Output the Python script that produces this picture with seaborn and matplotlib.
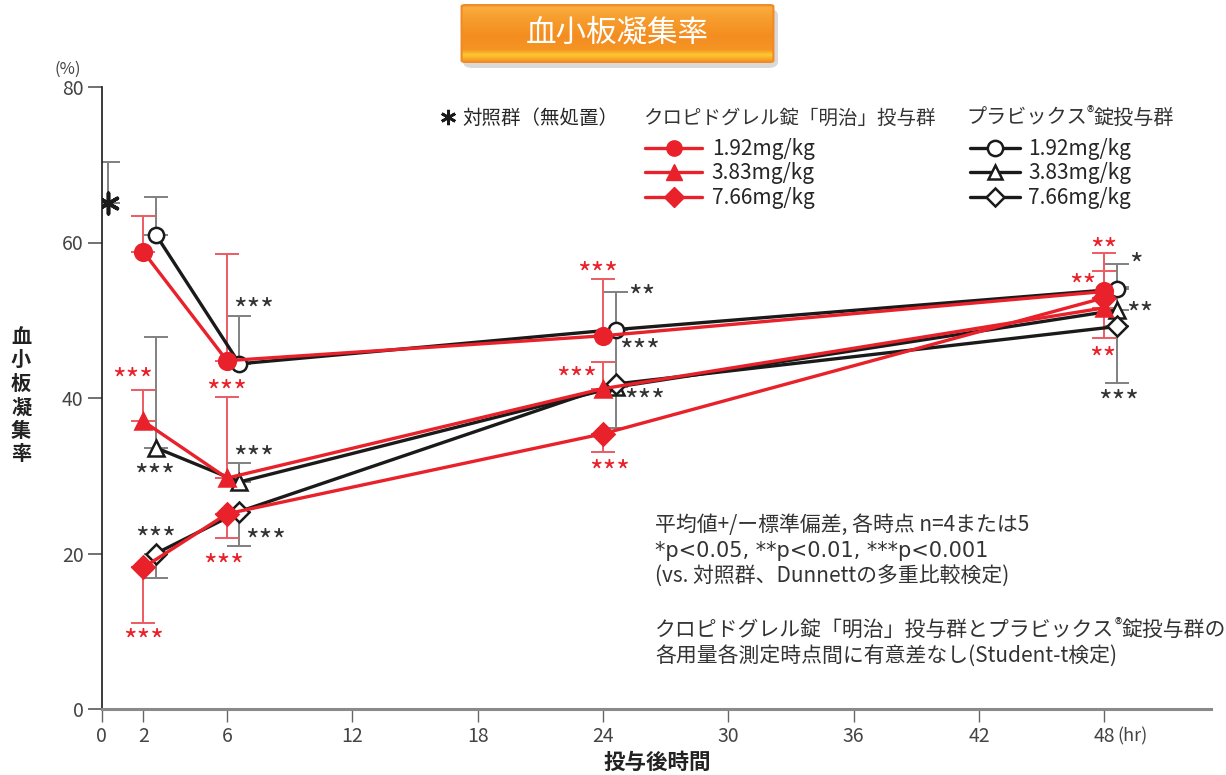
import numpy as np
import pandas as pd
import seaborn as sns
import matplotlib
matplotlib.use("Agg")
import matplotlib.pyplot as plt
from matplotlib.lines import Line2D
from matplotlib.patches import FancyBboxPatch
from matplotlib.colors import LinearSegmentedColormap
import matplotlib.transforms as mtransforms

# ---------------- data ----------------
times = [2, 6, 24, 48]
plavix_times = [2.6, 6.6, 24.6, 48.6]
control_time = [0.3]
control_value = [65.1]
control_err_up = [5.2]

clo_192 = [58.8, 44.8, 48.0, 53.7]
clo_192_err_up = [4.6, 13.7, 7.3, 5.0]
clo_383 = [37.0, 29.7, 41.2, 51.6]
clo_383_err_up = [4.0, 10.4, 3.4, 4.7]
clo_766 = [18.2, 25.1, 35.4, 52.9]
clo_766_err_dn = [7.1, 3.1, 2.3, 5.2]

pla_192 = [61.0, 44.4, 48.8, 54.0]
pla_192_err_up = [4.9, 6.2, 4.8, 3.2]
pla_383 = [33.6, 29.2, 41.4, 51.3]
pla_383_err_up = [14.2, 2.4, 7.0, 3.0]
pla_766 = [20.0, 25.4, 41.8, 49.2]
pla_766_err_dn = [3.2, 4.4, 5.7, 7.3]

dose_labels = ["1.92mg/kg", "3.83mg/kg", "7.66mg/kg"]
x_ticks = [0, 2, 6, 12, 18, 24, 30, 36, 42, 48]
y_ticks = [0, 20, 40, 60, 80]

# significance marks: (x, y, text, group)
sig_marks = [
    (1.49, 43.2, "***", "clo"), (2.53, 30.8, "***", "pla"), (2.59, 22.7, "***", "pla"),
    (1.99, 9.6, "***", "clo"), (7.26, 52.2, "***", "pla"), (5.99, 41.6, "***", "clo"),
    (7.26, 33.1, "***", "pla"), (7.86, 22.5, "***", "pla"), (5.83, 19.3, "***", "clo"),
    (23.73, 56.8, "***", "clo"), (25.85, 53.9, "**", "pla"), (25.77, 46.9, "***", "pla"),
    (22.71, 43.3, "***", "clo"), (25.98, 40.5, "***", "pla"), (24.29, 31.3, "***", "clo"),
    (47.95, 59.9, "**", "clo"), (49.51, 57.97, "*", "pla"), (46.95, 55.3, "**", "clo"),
    (49.71, 51.7, "**", "pla"), (47.9, 45.9, "**", "clo"), (48.67, 40.3, "***", "pla"),
]

RED = "#e8212a"
RED_ERR = "#ee5a62"
BLACK = "#1a1a1a"
GRAY_ERR = "#808080"
STAR_DARK = "#333333"
TXT = "#333333"

sns.set_theme(style="white")
plt.rcParams["font.family"] = ["Noto Sans CJK JP", "DejaVu Sans"]

W, H = 1226, 775
fig = plt.figure(figsize=(W / 100, H / 100), dpi=100)
fig.patch.set_facecolor("white")

def fx(px):
    return px / W

def fy(py):
    return 1 - py / H

ax = fig.add_axes([fx(101.6), fy(709), fx(1211) - fx(101.6), fy(87) - fy(709)])
ax.set_facecolor("white")

# ---------------- error bars ----------------
def ebar(x, y, up=None, dn=None, color=GRAY_ERR):
    z = [0] * len(y)
    yerr = [dn if dn is not None else z, up if up is not None else z]
    ax.errorbar(x, y, yerr=yerr, fmt="none", ecolor=color, elinewidth=1.4,
                capsize=8.5, capthick=1.4, zorder=1)

ebar(control_time, control_value, up=control_err_up)
ebar(plavix_times, pla_192, up=pla_192_err_up)
ebar(plavix_times, pla_383, up=pla_383_err_up)
ebar(plavix_times, pla_766, dn=pla_766_err_dn)
ebar(times, clo_192, up=clo_192_err_up, color=RED_ERR)
ebar(times, clo_383, up=clo_383_err_up, color=RED_ERR)
ebar(times, clo_766, dn=clo_766_err_dn, color=RED_ERR)

# ---------------- lines ----------------
series = [
    (plavix_times, pla_192, "o", BLACK, "white", 11, 3),
    (plavix_times, pla_383, "^", BLACK, "white", 11, 3),
    (plavix_times, pla_766, "D", BLACK, "white", 10, 3),
    (times, clo_192, "o", RED, RED, 12, 4),
    (times, clo_383, "^", RED, RED, 12, 4),
    (times, clo_766, "D", RED, RED, 11, 4),
]
for xs, ys, mk, col, mfc, ms, z in series:
    df = pd.DataFrame({"t": xs, "v": ys})
    sns.lineplot(data=df, x="t", y="v", ax=ax, color=col, linewidth=2.4,
                 marker=mk, markersize=ms, markerfacecolor=mfc,
                 markeredgecolor=col, markeredgewidth=1.8, zorder=z)

dfc = pd.DataFrame({"t": control_time, "v": control_value})
sns.scatterplot(data=dfc, x="t", y="v", ax=ax, marker=(6, 2, 0), s=220,
                color=BLACK, linewidth=2.6, edgecolor=BLACK, zorder=5)

# ---------------- significance stars ----------------
STAR_FS = 21
for x, y, s, g in sig_marks:
    col = RED if g == "clo" else STAR_DARK
    tr = mtransforms.offset_copy(ax.transData, fig=fig, x=0, y=-0.56 * STAR_FS,
                                 units="points")
    ax.text(x, y, s, transform=tr, ha="center", va="baseline", fontsize=STAR_FS,
            color=col, zorder=6)

# ---------------- axes styling ----------------
ax.set_xlim(0, 53.1)
ax.set_ylim(0, 80)
ax.set_xticks(x_ticks)
ax.set_yticks(y_ticks)
ax.set_xticklabels([str(t) for t in x_ticks])
ax.set_xlabel("")
ax.set_ylabel("")
for s in ["top", "right"]:
    ax.spines[s].set_visible(False)
ax.spines["left"].set_color(BLACK)
ax.spines["left"].set_linewidth(1.2)
ax.spines["bottom"].set_color("#8a8a8a")
ax.spines["bottom"].set_linewidth(2.2)
ax.tick_params(axis="y", direction="out", length=10, width=1.3, color="#666666",
               labelsize=14, labelcolor="#444444", pad=3, left=True)
ax.tick_params(axis="x", direction="out", length=9, width=1.0, color="#666666",
               labelsize=14, labelcolor="#444444", pad=3, bottom=True)
ax.grid(False)

fig.text(fx(1117), fy(736), "(hr)", ha="left", va="center", fontsize=13, color="#444444")
fig.text(fx(68), fy(69), "(%)", ha="center", va="center", fontsize=12, color="#444444")
fig.text(fx(657), fy(762), "投与後時間", ha="center", va="center", fontsize=15.5,
         fontweight="bold", color="#222222")
fig.text(fx(21), fy(395), "\n".join("血小板凝集率"), ha="center", va="center",
         fontsize=14.5, fontweight="bold", color="#222222", linespacing=1.15)

# ---------------- legends ----------------
ctrl_handle = [Line2D([], [], linestyle="none", marker=(6, 2, 0), markersize=11,
                      color=BLACK, markeredgewidth=2)]
leg0 = ax.legend(ctrl_handle, ["対照群（無処置）"], loc="center left",
                 bbox_to_anchor=(fx(440), fy(118)), bbox_transform=fig.transFigure,
                 frameon=False, fontsize=14, handlelength=0.8, handletextpad=0.35,
                 borderpad=0, borderaxespad=0)
ax.add_artist(leg0)

clo_handles = [Line2D([], [], color=RED, linewidth=2.4, marker=m, markersize=ms,
                      markerfacecolor=RED, markeredgecolor=RED)
               for m, ms in [("o", 11), ("^", 11), ("D", 10)]]
leg1 = ax.legend(clo_handles, dose_labels, loc="upper left",
                 bbox_to_anchor=(fx(645), fy(138)), bbox_transform=fig.transFigure,
                 frameon=False, fontsize=15, handlelength=2.75, handletextpad=0.45,
                 labelspacing=0.12, borderpad=0, borderaxespad=0)
ax.add_artist(leg1)

pla_handles = [Line2D([], [], color=BLACK, linewidth=2.4, marker=m, markersize=ms,
                      markerfacecolor="white", markeredgecolor=BLACK, markeredgewidth=1.8)
               for m, ms in [("o", 11), ("^", 10), ("D", 9)]]
leg2 = ax.legend(pla_handles, dose_labels, loc="upper left",
                 bbox_to_anchor=(fx(970), fy(138)), bbox_transform=fig.transFigure,
                 frameon=False, fontsize=15, handlelength=2.4, handletextpad=0.4,
                 labelspacing=0.12, borderpad=0, borderaxespad=0)

# ---------------- rich text helper ----------------
renderer = fig.canvas.get_renderer()

def rich(x_px, y_px, pieces, color=TXT):
    x = x_px
    for txt, size, dy in pieces:
        t = fig.text(fx(x), fy(y_px + dy), txt, ha="left", va="center",
                     fontsize=size, color=color)
        bb = t.get_window_extent(renderer)
        x += bb.width

fig.text(fx(643), fy(118), "クロピドグレル錠「明治」投与群", ha="left", va="center",
         fontsize=14, color=TXT)
rich(966, 118, [("プラビックス", 14.5, 0), ("®", 11, -5), ("錠投与群", 14.5, 0)])

NOTE_FS = 15
fig.text(fx(655), fy(525), "平均値+/ー標準偏差, 各時点 n=4または5", ha="left",
         va="center", fontsize=NOTE_FS, color=TXT)
fig.text(fx(655), fy(551), "*p<0.05, **p<0.01, ***p<0.001", ha="left",
         va="center", fontsize=NOTE_FS, color=TXT, family=["DejaVu Sans"])
fig.text(fx(655), fy(577), "(vs. 対照群、Dunnettの多重比較検定)", ha="left",
         va="center", fontsize=NOTE_FS, color=TXT)
rich(655, 630, [("クロピドグレル錠「明治」投与群とプラビックス", NOTE_FS, 0), ("®", 11, -5),
                ("錠投与群の", NOTE_FS, 0)])
fig.text(fx(655), fy(656), "各用量各測定時点間に有意差なし(Student-t検定)", ha="left",
         va="center", fontsize=NOTE_FS, color=TXT)

# ---------------- title box ----------------
bx0, by0, bx1, by1 = 460, 4, 775, 63
shadow = FancyBboxPatch((fx(bx0 + 3), fy(by1 + 5)), fx(bx1 - bx0), fy(by0) - fy(by1),
                        boxstyle="round,pad=0,rounding_size=0.008",
                        transform=fig.transFigure, facecolor="#000000", alpha=0.15,
                        edgecolor="none", zorder=-5)
fig.patches.append(shadow)
tax = fig.add_axes([fx(bx0), fy(by1), fx(bx1) - fx(bx0), fy(by0) - fy(by1)])
tax.set_zorder(2)
tax.set_axis_off()
cmap = LinearSegmentedColormap.from_list("btn", [
    (0.0, "#f08a22"), (0.06, "#f9ad40"), (0.2, "#f7a030"), (0.55, "#f48d20"),
    (0.78, "#f59524"), (0.86, "#fdca30"), (0.93, "#f9a928"), (1.0, "#ef8620")])
grad = np.linspace(0, 1, 256).reshape(-1, 1)
im = tax.imshow(grad, extent=[0, 1, 0, 1], aspect="auto", cmap=cmap, origin="upper",
                interpolation="bilinear")
clip = FancyBboxPatch((0.005, 0.01), 0.99, 0.98,
                      boxstyle="round,pad=0,rounding_size=0.03",
                      transform=tax.transAxes, facecolor="none", edgecolor="#f08a26",
                      linewidth=1.5)
tax.add_patch(clip)
im.set_clip_path(clip)
tax.set_xlim(0, 1)
tax.set_ylim(0, 1)
tax.text(0.5, 0.5, "血小板凝集率", transform=tax.transAxes, ha="center", va="center",
         fontsize=22, color="white")

fig.savefig("out.png", dpi=100, facecolor="white")
